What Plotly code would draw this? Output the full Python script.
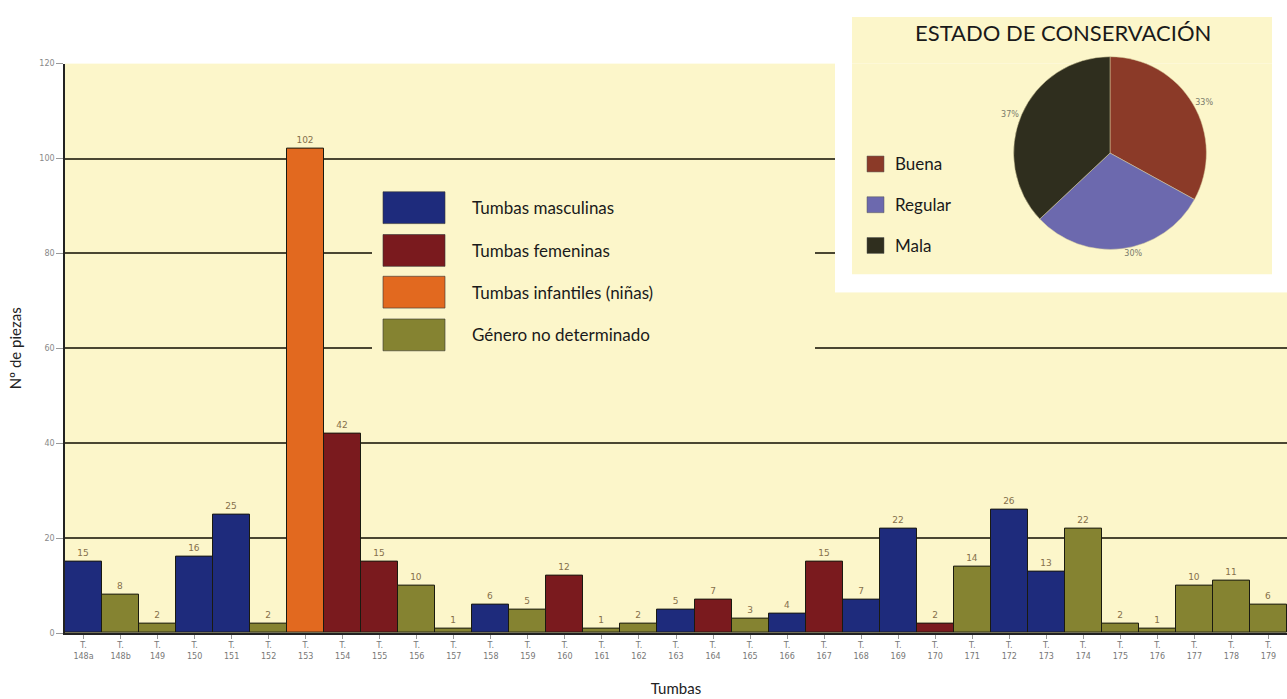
import plotly.graph_objects as go

# ---------------- data ----------------
tumbas = ["148a", "148b", "149", "150", "151", "152", "153", "154", "155", "156", "157",
          "158", "159", "160", "161", "162", "163", "164", "165", "166", "167", "168",
          "169", "170", "171", "172", "173", "174", "175", "176", "177", "178", "179"]
piezas = [15, 8, 2, 16, 25, 2, 102, 42, 15, 10, 1,
          6, 5, 12, 1, 2, 5, 7, 3, 4, 15, 7,
          22, 2, 14, 26, 13, 22, 2, 1, 10, 11, 6]
genero = ["M", "N", "N", "M", "M", "N", "I", "F", "F", "N", "N",
          "M", "N", "F", "N", "N", "M", "F", "N", "M", "F", "M",
          "M", "F", "N", "M", "M", "N", "N", "N", "N", "N", "N"]

grupos = ["M", "F", "I", "N"]
grupo_nombres = ["Tumbas masculinas", "Tumbas femeninas", "Tumbas infantiles (niñas)", "Género no determinado"]
grupo_colores = ["#1E2B7C", "#7A1A1E", "#E2691F", "#858331"]

conservacion = ["Buena", "Regular", "Mala"]
porcentajes = [33, 30, 37]
conservacion_colores = ["#8B3A28", "#6C69AE", "#2F2E1E"]

y_ticks = [0, 20, 40, 60, 80, 100, 120]

# ---------------- geometry helpers (pixel -> paper) ----------------
W, H = 1287, 699
ML, MR, MT, MB = 65, 0, 0, 66
PW = W - ML - MR
PH = H - MT - MB
PLOT_TOP_PX = 60
Y_DOMAIN_TOP = (H - MB - PLOT_TOP_PX) / PH
n = len(tumbas)


def px(xp):
    return (xp - ML) / PW


def py(yp):
    return (H - MB - yp) / PH


def dx(xp):
    return (xp - ML) / PW * n - 0.5


def dy(yp):
    return (H - MB - yp) / (H - MB - PLOT_TOP_PX) * 120


PLOT_BG = "#FCF6CA"
labels_x = ["T.<br>" + t for t in tumbas]

fig = go.Figure()

for g, nombre, color in zip(grupos, grupo_nombres, grupo_colores):
    xs = [labels_x[i] for i in range(n) if genero[i] == g]
    ys = [piezas[i] for i in range(n) if genero[i] == g]
    fig.add_trace(go.Bar(
        x=xs, y=ys, name=nombre,
        marker=dict(color=color, line=dict(color="#1a1a10", width=1)),
        text=[str(v) for v in ys], textposition="outside",
        textfont=dict(size=9, color="#86704a", family="DejaVu Sans"),
        cliponaxis=False, showlegend=False,
    ))

fig.add_trace(go.Pie(
    labels=conservacion, values=porcentajes, sort=False, direction="clockwise",
    rotation=0, marker=dict(colors=conservacion_colores, line=dict(color="#d8d0a0", width=0.5)),
    textinfo="percent", textposition="outside",
    textfont=dict(size=8, color="#7a7a6a", family="DejaVu Sans"),
    domain=dict(x=[px(1013), px(1207)], y=[py(247), py(53)]),
    showlegend=False, hoverinfo="label+percent",
))

shapes = []
annotations = []

# Inset panel (pie): part outside the plot area (paper) and part inside (covers gridlines)
shapes.append(dict(type="rect", xref="paper", yref="paper", layer="below",
                   x0=px(835), x1=px(W), y0=py(290), y1=py(0),
                   fillcolor="white", line=dict(width=0)))
shapes.append(dict(type="rect", xref="paper", yref="paper", layer="below",
                   x0=px(852), x1=px(1272), y0=py(272), y1=py(13),
                   fillcolor=PLOT_BG, line=dict(width=0)))
shapes.append(dict(type="rect", xref="x", yref="y", layer="between",
                   x0=dx(835), x1=dx(W + 5), y0=dy(290), y1=125,
                   fillcolor="white", line=dict(width=0)))
shapes.append(dict(type="rect", xref="x", yref="y", layer="between",
                   x0=dx(852), x1=dx(1272), y0=dy(272), y1=125,
                   fillcolor=PLOT_BG, line=dict(width=0)))

# Bar legend box covering gridlines
shapes.append(dict(type="rect", xref="x", yref="y", layer="between",
                   x0=dx(372), x1=dx(815), y0=dy(362), y1=dy(178),
                   fillcolor=PLOT_BG, line=dict(width=0)))

leg_rows = [205, 248, 290, 333]
for yy, nombre, color in zip(leg_rows, grupo_nombres, grupo_colores):
    shapes.append(dict(type="rect", xref="paper", yref="paper", layer="above",
                       x0=px(383), x1=px(445), y0=py(yy + 16), y1=py(yy - 16),
                       fillcolor=color, line=dict(color="#333", width=0.6)))
    annotations.append(dict(x=px(470), y=py(yy), xref="paper", yref="paper",
                            text=nombre, showarrow=False, xanchor="left", yanchor="middle",
                            font=dict(family="Lato", size=17, color="#1a1a1a")))

pie_rows = [161, 202, 243]
for yy, nombre, color in zip(pie_rows, conservacion, conservacion_colores):
    shapes.append(dict(type="rect", xref="paper", yref="paper", layer="above",
                       x0=px(867), x1=px(884), y0=py(yy + 8), y1=py(yy - 8),
                       fillcolor=color, line=dict(color="#555", width=0.5)))
    annotations.append(dict(x=px(893), y=py(yy), xref="paper", yref="paper",
                            text=nombre, showarrow=False, xanchor="left", yanchor="middle",
                            font=dict(family="Lato", size=17, color="#1a1a1a")))

annotations.append(dict(x=px(1063), y=py(29), xref="paper", yref="paper",
                        text="ESTADO DE CONSERVACIÓN", showarrow=False,
                        xanchor="center", yanchor="middle",
                        font=dict(family="Lato", size=22, color="#1a1a1a")))

fig.update_layout(
    width=W, height=H,
    margin=dict(l=ML, r=MR, t=MT, b=MB),
    paper_bgcolor="white",
    plot_bgcolor=PLOT_BG,
    barmode="overlay",
    bargap=0,
    shapes=shapes,
    annotations=annotations,
    showlegend=False,
    font=dict(family="Lato"),
)

fig.update_xaxes(
    type="category", categoryorder="array", categoryarray=labels_x,
    range=[-0.5, n - 0.5],
    showline=True, linecolor="#222", linewidth=1.5,
    ticks="outside", ticklen=4, tickcolor="#999",
    tickfont=dict(size=8, color="#777", family="DejaVu Sans"),
    showgrid=False,
    title=dict(text="Tumbas", font=dict(size=15, color="#222", family="Lato"), standoff=24),
)
fig.update_yaxes(
    range=[0, 120], domain=[0, Y_DOMAIN_TOP],
    tickvals=y_ticks, ticktext=[str(v) for v in y_ticks],
    showline=True, linecolor="#222", linewidth=1.5,
    ticks="outside", ticklen=7, tickcolor="#999",
    tickfont=dict(size=8, color="#888", family="DejaVu Sans"),
    showgrid=True, gridcolor="#4a4632", gridwidth=1.6,
    zeroline=False,
    title=dict(text="Nº de piezas", font=dict(size=15, color="#222", family="Lato"), standoff=14),
)

fig.write_html("out.html", config={"displayModeBar": False},
               post_script="document.body.style.margin='0';document.body.style.overflow='hidden';")
